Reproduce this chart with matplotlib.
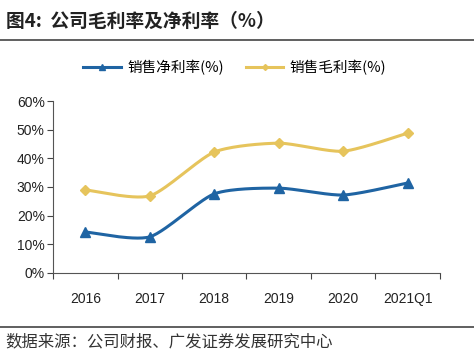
import matplotlib

matplotlib.use("Agg")
import matplotlib.pyplot as plt
import numpy as np
from matplotlib.lines import Line2D
from matplotlib.ticker import PercentFormatter

plt.rcParams["font.family"] = ["Liberation Sans", "Noto Sans CJK SC", "DejaVu Sans"]

years = ["2016", "2017", "2018", "2019", "2020", "2021Q1"]
net_margin = [14.3, 12.6, 27.6, 29.6, 27.2, 31.4]
gross_margin = [29.0, 26.9, 42.2, 45.3, 42.5, 48.8]
net_label = "销售净利率(%)"
gross_label = "销售毛利率(%)"

BLUE = "#1f64a3"
GOLD = "#e6c45c"
CJK = ["Noto Sans CJK SC", "DejaVu Sans"]


def smooth(x, y, n=30, k=0.35):
    # cardinal spline through the points, close to Excel's smoothed line
    x = np.asarray(x, float)
    y = np.asarray(y, float)
    px = np.concatenate([[x[0]], x, [x[-1]]])
    py = np.concatenate([[y[0]], y, [y[-1]]])
    xs, ys = [], []
    t = np.linspace(0, 1, n)
    h00 = 2 * t ** 3 - 3 * t ** 2 + 1
    h10 = t ** 3 - 2 * t ** 2 + t
    h01 = -2 * t ** 3 + 3 * t ** 2
    h11 = t ** 3 - t ** 2
    for i in range(1, len(px) - 2):
        for p, out in ((px, xs), (py, ys)):
            m1 = k * (p[i + 1] - p[i - 1])
            m2 = k * (p[i + 2] - p[i])
            out.extend(h00 * p[i] + h10 * m1 + h01 * p[i + 1] + h11 * m2)
    return np.array(xs), np.array(ys)


fig = plt.figure(figsize=(4.74, 3.61), dpi=100)
ax = fig.add_axes([0.112, 0.244, 0.816, 0.476])

x = np.arange(len(years))
for vals, color, marker, ms in ((net_margin, BLUE, "^", 6.5), (gross_margin, GOLD, "D", 5)):
    sx, sy = smooth(x, vals)
    ax.plot(sx, sy, color=color, linewidth=2.2, solid_capstyle="round")
    ax.plot(x, vals, linestyle="none", marker=marker, markersize=ms, color=color)

ax.set_xlim(-0.5, len(years) - 0.5)
ax.set_ylim(0, 60)
ax.set_yticks(range(0, 61, 10))
ax.yaxis.set_major_formatter(PercentFormatter(decimals=0))
ax.set_xticks(np.arange(-0.5, len(years), 1.0))
ax.set_xticklabels([])
ax.set_xticks(x, minor=True)
ax.set_xticklabels(years, minor=True)
ax.tick_params(axis="x", which="minor", length=0, pad=14, labelsize=10, labelcolor="#222222")
ax.tick_params(axis="x", which="major", length=4, direction="out", color="#444444")
ax.tick_params(axis="y", length=4, direction="out", color="#444444", labelsize=10,
               labelcolor="#222222", pad=2)
for side in ("top", "right"):
    ax.spines[side].set_visible(False)
for side in ("left", "bottom"):
    ax.spines[side].set_color("#555555")

handles = [
    Line2D([], [], color=BLUE, linewidth=2.2, marker="^", markersize=4),
    Line2D([], [], color=GOLD, linewidth=2.2, marker="D", markersize=3),
]
fig.legend(handles, [net_label, gross_label], loc="center", bbox_to_anchor=(0.495, 0.812),
           ncol=2, frameon=False, handlelength=2.6, handletextpad=0.4, columnspacing=1.5,
           prop={"family": CJK, "size": 10.5})

fig.text(0.012, 0.94, "图4:  公司毛利率及净利率（%）", fontsize=13.5, fontweight="bold",
         family=CJK, va="center", color="#222222")
fig.add_artist(Line2D([0, 1], [0.888, 0.888], color="#444444", linewidth=1.2))
fig.add_artist(Line2D([0, 1], [0.094, 0.094], color="#444444", linewidth=1.2))
fig.text(0.012, 0.052, "数据来源：公司财报、广发证券发展研究中心", fontsize=11.8,
         family=CJK, va="center", color="#333333")

fig.savefig("out.png", dpi=100)
plt.close(fig)
